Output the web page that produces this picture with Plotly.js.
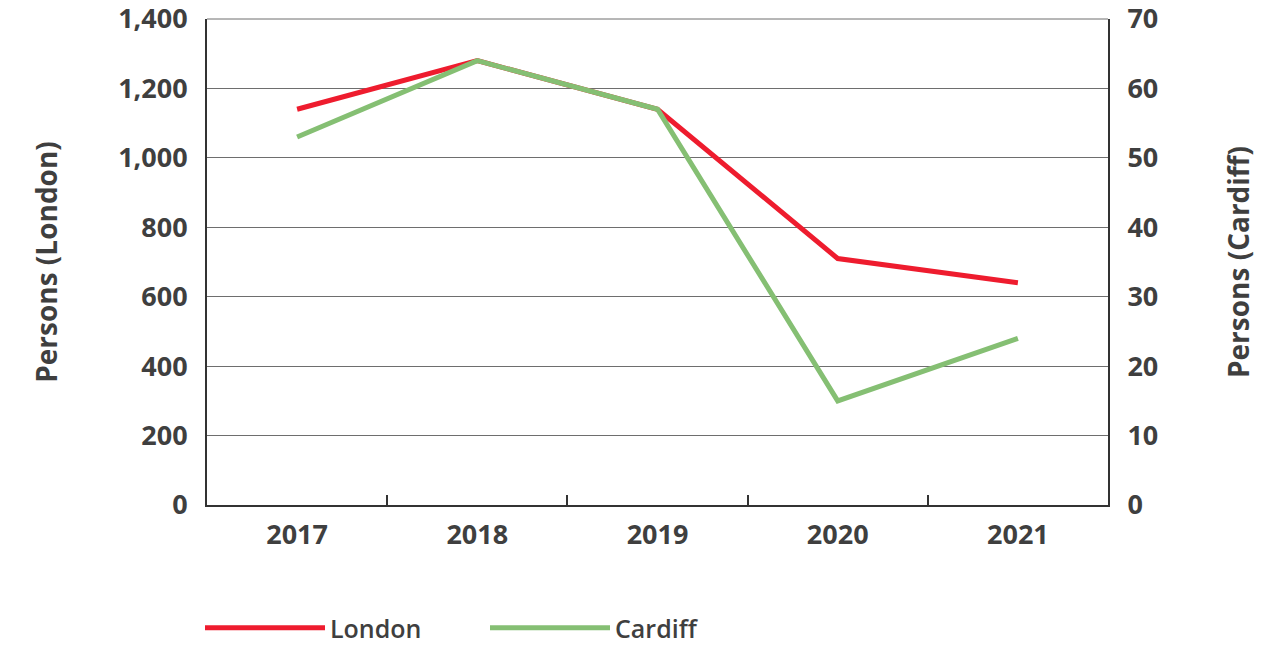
<!DOCTYPE html>
<html>
<head>
<meta charset="utf-8">
<script src="https://cdn.plot.ly/plotly-3.0.1.min.js"></script>
<style>html,body{margin:0;padding:0;background:#fff;}#chart{width:1278px;height:646px;}</style>
</head>
<body>
<div id="chart"></div>
<script>
const years = ['2017', '2018', '2019', '2020', '2021'];
const london = [1140, 1280, 1140, 710, 640];
const cardiff = [53, 64, 57, 15, 24];

const FONT = '"Open Sans", Lato, sans-serif';
const TXT = '#3f3f3f';

const traces = [
  {x: years, y: london, name: 'London', type: 'scatter', mode: 'lines',
   line: {color: '#ee1c2e', width: 5}, yaxis: 'y'},
  {x: years, y: cardiff, name: 'Cardiff', type: 'scatter', mode: 'lines',
   line: {color: '#85bf73', width: 5}, yaxis: 'y2'}
];

const layout = {
  width: 1278, height: 646,
  margin: {l: 207, r: 170, t: 19, b: 141, autoexpand: false},
  paper_bgcolor: '#fff', plot_bgcolor: '#fff',
  font: {family: FONT, color: TXT, size: 27, weight: 700},
  showlegend: true,
  legend: {orientation: 'h', xref: 'container', yref: 'container',
           x: 200/1278, xanchor: 'left', y: 18/646, yanchor: 'middle',
           font: {size: 25, weight: 600, color: TXT}, itemwidth: 120,
           entrywidth: 150, traceorder: 'normal'},
  xaxis: {type: 'category', range: [-0.5, 4.5], tickson: 'boundaries', ticks: 'inside',
          ticklen: 10, tickwidth: 2, tickcolor: '#333', showgrid: false,
          showline: true, linecolor: '#333', linewidth: 2,
          ticklabelstandoff: 5,
          tickfont: {size: 27, weight: 700, color: TXT}, fixedrange: true},
  yaxis: {range: [0, 1400], dtick: 200, tickformat: ',d', showgrid: true,
          gridcolor: '#6e6e6e', gridwidth: 1, zeroline: false,
          showline: true, linecolor: '#333', linewidth: 2, ticks: '',
          ticklabelstandoff: 12, ticklabeloverflow: 'allow',
          tickfont: {size: 27, weight: 700, color: TXT},
          title: {text: 'Persons (London)', font: {size: 28, weight: 700, color: TXT}, standoff: 52}},
  yaxis2: {range: [0, 70], dtick: 10, overlaying: 'y', side: 'right', showgrid: false,
           zeroline: false, showline: true, linecolor: '#333', linewidth: 2, ticks: '',
           ticklabelstandoff: 12, ticklabeloverflow: 'allow',
           tickfont: {size: 27, weight: 700, color: TXT},
           title: {text: 'Persons (Cardiff)', font: {size: 28, weight: 700, color: TXT}, standoff: 72}},
  shapes: [
    {type: 'line', xref: 'paper', yref: 'paper', x0: 0, x1: 1, y0: 1, y1: 1,
     line: {color: '#6e6e6e', width: 1}}
  ]
};

Plotly.newPlot('chart', traces, layout, {displayModeBar: false, staticPlot: true});
</script>
</body>
</html>
